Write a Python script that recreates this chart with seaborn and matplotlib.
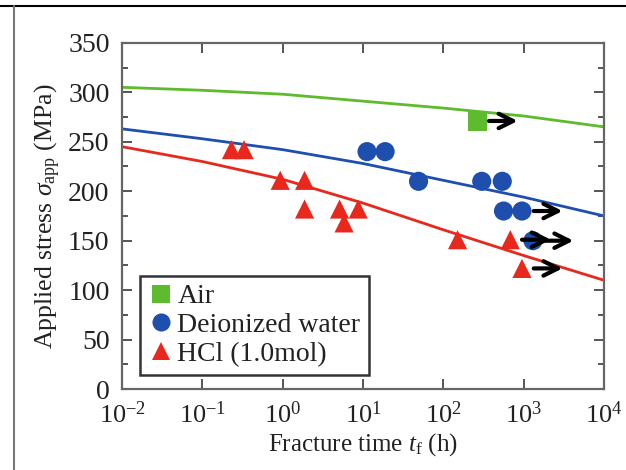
import numpy as np
import pandas as pd
import matplotlib
matplotlib.use("Agg")
import matplotlib.pyplot as plt
import seaborn as sns
from matplotlib.lines import Line2D
from matplotlib.ticker import MultipleLocator, LogLocator, NullLocator

# ---- data ----
air_t = [263]
air_s = [271]
water_t = [11.2, 18.8, 49, 300, 540, 560, 950, 1300]
water_s = [240, 240, 210, 210, 210, 180, 180, 150]
hcl_t = [0.23, 0.33, 0.93, 1.87, 1.87, 5.1, 8.7, 5.8, 150, 680, 950]
hcl_s = [242, 242, 211, 211, 182, 182, 182, 168, 151, 151, 122]

# run-out (unbroken) specimens marked with arrows
runout_t = [263, 950, 1300, 680, 950]
runout_s = [271, 180, 150, 151, 122]

fit_t = [1e-2, 1e-1, 1e0, 1e1, 1e2, 1e3, 1e4]
air_fit = [305, 302, 298, 291, 284, 276, 265]
water_fit = [263, 253, 242, 228, 211, 194, 175]
hcl_fit = [245, 230, 212, 188, 161, 135, 110]

names = ["Air", "Deionized water", "HCl (1.0mol)"]
colors = {"Air": "#5dbb2d", "Deionized water": "#1f4fae", "HCl (1.0mol)": "#e8281c"}
markers = {"Air": "s", "Deionized water": "o", "HCl (1.0mol)": "^"}

pts = pd.DataFrame({
    "t": air_t + water_t + hcl_t,
    "s": air_s + water_s + hcl_s,
    "env": ["Air"] * len(air_t) + ["Deionized water"] * len(water_t) + ["HCl (1.0mol)"] * len(hcl_t),
})
fits = pd.DataFrame({
    "t": fit_t * 3,
    "s": air_fit + water_fit + hcl_fit,
    "env": ["Air"] * 7 + ["Deionized water"] * 7 + ["HCl (1.0mol)"] * 7,
})

sns.set_style("ticks")
plt.rcParams["font.family"] = ["Liberation Serif", "DejaVu Serif"]
plt.rcParams["mathtext.fontset"] = "custom"
plt.rcParams["mathtext.rm"] = "Liberation Serif"
plt.rcParams["mathtext.it"] = "Liberation Serif:italic"

fig = plt.figure(figsize=(6.26, 4.70), dpi=100)
ax = fig.add_axes([0.195, 0.172, 0.770, 0.737])

sns.lineplot(data=fits, x="t", y="s", hue="env", palette=colors, ax=ax,
             linewidth=2.0, legend=False, sort=True)
sns.scatterplot(data=pts, x="t", y="s", hue="env", style="env", palette=colors,
                markers=markers, s=190, edgecolor="none", ax=ax, legend=False, zorder=3)

# arrows for run-outs
for t, s in zip(runout_t, runout_s):
    ax.annotate("", xy=(t * 3.2, s), xytext=(t * 1.4, s),
                arrowprops=dict(arrowstyle="->", color="black", lw=3.0,
                                mutation_scale=26, shrinkA=0, shrinkB=0), zorder=4)

ax.set_xscale("log")
ax.set_xlim(1e-2, 1e4)
ax.set_ylim(0, 350)
ax.xaxis.set_major_locator(LogLocator(base=10, numticks=10))
ax.xaxis.set_minor_locator(NullLocator())
ax.yaxis.set_major_locator(MultipleLocator(50))
ax.yaxis.set_minor_locator(MultipleLocator(25))
ax.tick_params(which="both", direction="in", top=True, right=True, colors="#555555",
               labelcolor="#222222", labelsize=20)
ax.tick_params(axis="y", which="major", pad=9)
ax.tick_params(axis="x", which="major", pad=9, labelsize=19)
ax.tick_params(which="major", length=7, width=1.4)
ax.tick_params(which="minor", length=4, width=1.4)
for sp in ax.spines.values():
    sp.set_color("#666666")
    sp.set_linewidth(1.6)

ax.set_xlabel(r"Fracture time $t_{\mathrm{f}}$ (h)", fontsize=18, labelpad=2,
              color="#222222")
ax.set_ylabel(r"Applied stress $\sigma_{\mathrm{app}}$ (MPa)", fontsize=18.5, labelpad=4,
              color="#222222")

handles = [Line2D([], [], linestyle="none", marker=markers[n], color=colors[n],
                  markersize=13, markeredgewidth=0) for n in names]
leg = ax.legend(handles, names, loc="lower left", bbox_to_anchor=(0.037, 0.04),
                fontsize=20, frameon=True, fancybox=False, handletextpad=0.15,
                handlelength=0.9, borderpad=0.3, labelspacing=0.12, borderaxespad=0)
for txt in leg.get_texts():
    txt.set_color("#222222")
leg.get_frame().set_edgecolor("black")
leg.get_frame().set_linewidth(1.8)

# outer frame lines
fig.add_artist(Line2D([0, 1], [1 - 6 / 470, 1 - 6 / 470], color="black", lw=1.5,
                      transform=fig.transFigure))
fig.add_artist(Line2D([14 / 626, 14 / 626], [0, 1 - 6 / 470], color="#777777", lw=1.5,
                      transform=fig.transFigure))

fig.savefig("out.png", dpi=100)
